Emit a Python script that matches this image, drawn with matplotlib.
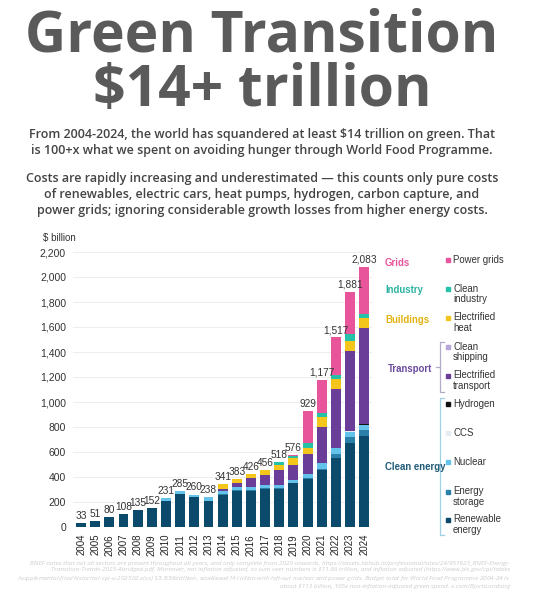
import matplotlib.pyplot as plt
import numpy as np

years = [str(y) for y in range(2004, 2025)]
totals = [33, 51, 80, 108, 135, 152, 231, 285, 260, 238, 341, 383, 426, 456, 518, 576, 929, 1177, 1517, 1881, 2083]

# stacked from the bottom up
renewable = [33, 51, 80, 108, 135, 152, 212, 268, 240, 210, 258, 290, 290, 307, 305, 350, 381, 455, 555, 675, 728]
storage = [0, 0, 0, 0, 0, 0, 0, 0, 0, 0, 3, 5, 5, 5, 5, 5, 8, 10, 29, 48, 48]
nuclear = [0, 0, 0, 0, 0, 0, 19, 17, 20, 28, 25, 22, 22, 21, 28, 21, 32, 45, 45, 40, 40]
ccs = [0, 0, 0, 0, 0, 0, 0, 0, 0, 0, 0, 0, 0, 0, 0, 0, 0, 0, 0, 3, 2]
hydrogen = [0, 0, 0, 0, 0, 0, 0, 0, 0, 0, 0, 0, 0, 0, 0, 0, 0, 0, 0, 5, 4]
transport = [0, 0, 0, 0, 0, 0, 0, 0, 0, 0, 18, 38, 73, 80, 118, 124, 160, 294, 472, 637, 767]
shipping = [0, 0, 0, 0, 0, 0, 0, 0, 0, 0, 0, 0, 0, 0, 0, 0, 0, 0, 0, 0, 0]
heat = [0, 0, 0, 0, 0, 0, 0, 0, 0, 0, 37, 28, 36, 43, 44, 50, 48, 80, 83, 83, 86]
industry = [0, 0, 0, 0, 0, 0, 0, 0, 0, 0, 0, 0, 0, 0, 18, 18, 40, 26, 32, 53, 26]
grids = [0, 0, 0, 0, 0, 0, 0, 0, 0, 0, 0, 0, 0, 0, 0, 8, 260, 267, 301, 337, 382]

series = [
    ("Renewable\nenergy", renewable, "#0b4a6b"),
    ("Energy\nstorage", storage, "#2a80a8"),
    ("Nuclear", nuclear, "#63c3ea"),
    ("CCS", ccs, "#e6edf2"),
    ("Hydrogen", hydrogen, "#111111"),
    ("Electrified\ntransport", transport, "#6a3d98"),
    ("Clean\nshipping", shipping, "#b7a7d8"),
    ("Electrified\nheat", heat, "#f4c61c"),
    ("Clean\nindustry", industry, "#25c2a8"),
    ("Power grids", grids, "#e8559b"),
]

W, H = 534, 604
fig = plt.figure(figsize=(W / 100, H / 100), dpi=100)
fig.patch.set_facecolor("white")


def fx(px):
    return px / W


def fy(py):
    return 1 - py / H


sans = "Liberation Sans"
head = "Open Sans"
cx = fx(262)

# heading
fig.text(cx, fy(36), "Green Transition", ha="center", va="center",
         fontsize=41, fontweight="bold", family=head, color="#5a5a5a")
fig.text(cx, fy(91), "$14+ trillion", ha="center", va="center",
         fontsize=41, fontweight="bold", family=head, color="#5a5a5a")
fig.text(cx, fy(143), "From 2004-2024, the world has squandered at least $14 trillion on green. That\n"
         "is 100+x what we spent on avoiding hunger through World Food Programme.",
         ha="center", va="center", fontsize=9.0, fontweight="semibold", family=head,
         color="#444444", linespacing=1.3)
fig.text(cx, fy(195), "Costs are rapidly increasing and underestimated \u2014 this counts only pure costs\n"
         "of renewables, electric cars, heat pumps, hydrogen, carbon capture, and\n"
         "power grids; ignoring considerable growth losses from higher energy costs.",
         ha="center", va="center", fontsize=9.0, fontweight="semibold", family=head,
         color="#444444", linespacing=1.3)

# chart
ax = fig.add_axes([fx(73), fy(527), fx(372) - fx(73), (527 - 252) / H])
x = np.arange(len(years))
bottom = np.zeros(len(years))
for name, vals, col in series:
    ax.bar(x, vals, width=0.7, bottom=bottom, color=col, zorder=2)
    bottom += np.array(vals)

for xi, t in zip(x, totals):
    ax.text(xi, t + 16, f"{t:,}", ha="center", va="bottom", fontsize=7.3,
            family=sans, color="#333333")

ax.set_ylim(0, 2200)
ax.set_xlim(-0.57, 20.55)
ax.set_yticks(range(0, 2201, 200))
ax.set_yticklabels([f"{v:,}" for v in range(0, 2201, 200)], family=sans, fontsize=7.5, color="#333333")
ax.set_xticks(x)
ax.set_xticklabels(years, rotation=90, family=sans, fontsize=7, color="#222222")
ax.tick_params(length=0, pad=5)
ax.grid(axis="y", color="#eeeeee", linewidth=0.8, zorder=0)
for s in ax.spines.values():
    s.set_visible(False)
fig.text(fx(43), fy(238), "$ billion", ha="left", va="center", fontsize=7, family=sans, color="#333333")

# legend
legend_rows = {
    "Power grids": 260, "Clean\nindustry": 289, "Electrified\nheat": 318,
    "Clean\nshipping": 347, "Electrified\ntransport": 376, "Hydrogen": 404,
    "CCS": 433, "Nuclear": 462, "Energy\nstorage": 492, "Renewable\nenergy": 520,
}
for name, vals, col in series:
    yy = legend_rows[name]
    fig.patches.append(plt.Rectangle((fx(446), fy(yy) - 2 / H), 4 / W, 4 / H,
                                     transform=fig.transFigure, color=col))
    if "\n" in name:
        fig.text(fx(453), fy(yy - 5.5), name, ha="left", va="top",
                 fontsize=6.9, family=sans, color="#333333", linespacing=1.1)
    else:
        fig.text(fx(453), fy(yy), name, ha="left", va="center",
                 fontsize=6.9, family=sans, color="#333333")

groups = [("Grids", 263, "#e8559b", 385), ("Industry", 290, "#2ab3a0", 385),
          ("Buildings", 320, "#e2b312", 385), ("Transport", 369, "#6a4a9c", 388),
          ("Clean energy", 467, "#1f5a76", 385)]
for label, yy, col, xx in groups:
    fig.text(fx(xx), fy(yy), label, ha="left", va="center", fontsize=6.9,
             fontweight="bold", family=sans, color=col)

# brackets
for y0, y1, col, tick in [(342, 392, "#b3aac9", True), (398, 535, "#9fd0e4", False)]:
    xs = [fx(444), fx(440), fx(440), fx(444)]
    ys = [fy(y0), fy(y0), fy(y1), fy(y1)]
    fig.add_artist(plt.Line2D(xs, ys, color=col, linewidth=0.9, transform=fig.transFigure))
    if tick:
        ym = fy((y0 + y1) / 2)
        fig.add_artist(plt.Line2D([fx(436), fx(440)], [ym, ym], color=col, linewidth=0.9,
                                  transform=fig.transFigure))

note = ("BNEF notes that not all sectors are present throughout all years, and only complete from 2020 onwards, "
        "https://assets.bbhub.io/professional/sites/24/951623_BNEF-Energy-\n"
        "Transition-Trends-2025-Abridged.pdf. Moreover, not inflation adjusted, so sum over numbers is $11.86 trillion, "
        "and inflation adjusted (https://www.bls.gov/cpi/tables\n"
        "/supplemental-files/historical-cpi-u-202502.xlsx) $13.836 trillion, so at least $14 trillion with left-out "
        "nuclear and power grids. Budget total for World Food Programme 2004-24 is\n"
        "about $113 billion, 105x non-inflation-adjusted green spend. x.com/BjornLomborg")
fig.text(fx(510), fy(561), note, ha="right", va="top", fontsize=4.55, style="italic",
         family=head, color="#cccccc", linespacing=1.3, multialignment="right")

fig.savefig("out.png", dpi=100)
